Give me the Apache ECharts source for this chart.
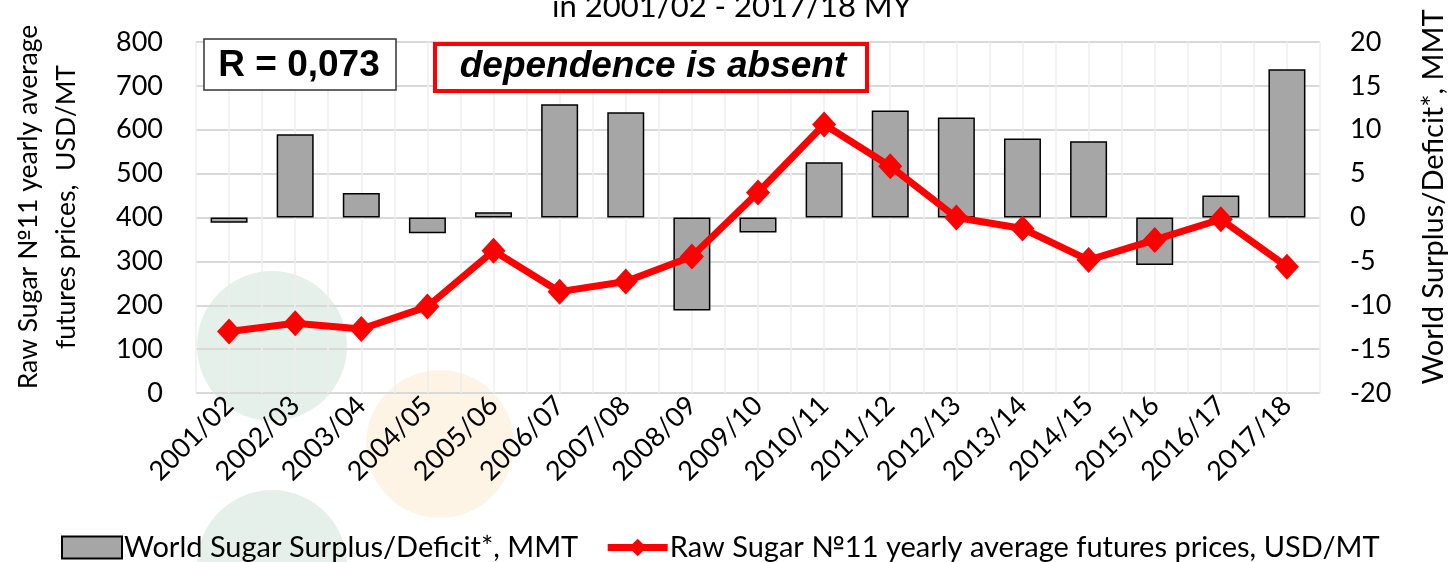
<!DOCTYPE html>
<html>
<head>
<meta charset="utf-8">
<script src="https://cdn.jsdelivr.net/npm/echarts@6/dist/echarts.min.js"></script>
<style>
  html, body { margin: 0; padding: 0; background: #fff; }
  #chart { width: 1449px; height: 562px; }
</style>
</head>
<body>
<div id="chart"></div>
<script>
// marketing years
var seasons = ['2001/02', '2002/03', '2003/04', '2004/05', '2005/06', '2006/07', '2007/08', '2008/09', '2009/10',
    '2010/11', '2011/12', '2012/13', '2013/14', '2014/15', '2015/16', '2016/17', '2017/18'];
// world surplus / deficit, MMT (right axis)
var surplus = [-0.6, 9.5, 2.8, -1.8, 0.6, 12.9, 12.0, -10.6, -1.7, 6.3, 12.2, 11.4, 9.0, 8.7, -5.4, 2.5, 16.9];
// raw sugar No11 yearly average price, USD/MT (left axis)
var price = [140, 159, 146, 197, 324, 231, 254, 311, 457, 612, 517, 400, 375, 303, 349, 396, 288];
var priceTicks = [0, 800, 100];
var surplusTicks = [-20, 20, 5];

// half-step categories, only used to draw the light vertical grid
var halfSteps = [];
for (var i = 0; i < seasons.length * 2; i++) halfSteps.push('');

var font = 'Lato';
var myChart = echarts.init(document.getElementById('chart'));
var option = {
    animation: false,
    textStyle: { fontFamily: font },
    legend: {
        top: 528,
        left: 56,
        itemWidth: 60,
        itemHeight: 22,
        itemGap: 26,
        textStyle: { fontSize: 29, color: '#000', fontFamily: font, padding: [0, 0, 0, -3] },
        data: [
            { name: 'World Sugar Surplus/Deficit*, MMT', icon: 'rect' },
            {
                name: 'Raw Sugar №11 yearly average futures prices, USD/MT',
                lineStyle: { width: 7, color: '#ff0000' },
                itemStyle: { color: '#ff0000' }
            }
        ]
    },
    grid: { left: 196, right: 129, top: 42, bottom: 169 },
    xAxis: [{
        type: 'category',
        data: seasons,
        axisLine: { show: false },
        axisTick: { show: false },
        splitLine: { show: false },
        axisLabel: { rotate: 45, fontSize: 27, color: '#000', margin: 8, interval: 0 }
    }, {
        type: 'category',
        data: halfSteps,
        position: 'bottom',
        axisLine: { show: false },
        axisTick: { show: false },
        axisLabel: { show: false },
        splitLine: { show: true, interval: 0, lineStyle: { color: '#eeeeee', width: 1.5 } }
    }],
    yAxis: [{
        type: 'value',
        min: priceTicks[0],
        max: priceTicks[1],
        interval: priceTicks[2],
        axisLine: { show: false },
        axisTick: { show: false },
        axisLabel: { fontSize: 27, color: '#000', margin: 33 },
        splitLine: { lineStyle: { color: '#d9d9d9', width: 2 } }
    }, {
        type: 'value',
        min: surplusTicks[0],
        max: surplusTicks[1],
        interval: surplusTicks[2],
        axisLine: { show: false },
        axisTick: { show: false },
        axisLabel: { fontSize: 27, color: '#000', margin: 30 },
        splitLine: { show: false }
    }],
    series: [{
        name: 'World Sugar Surplus/Deficit*, MMT',
        type: 'bar',
        yAxisIndex: 1,
        barWidth: 37,
        data: surplus,
        itemStyle: { color: '#a6a6a6', borderColor: '#000', borderWidth: 1.5 }
    }, {
        name: 'Raw Sugar №11 yearly average futures prices, USD/MT',
        type: 'line',
        yAxisIndex: 0,
        data: price,
        symbol: 'diamond',
        symbolSize: [24, 26],
        lineStyle: { color: '#ff0000', width: 7 },
        itemStyle: { color: '#ff0000' },
        z: 5
    }],
    graphic: [
        // faint watermark circles
        { type: 'circle', z: -1, shape: { cx: 272, cy: 346, r: 75 }, style: { fill: 'rgba(200,222,208,0.45)' } },
        { type: 'circle', z: -1, shape: { cx: 272, cy: 565, r: 75 }, style: { fill: 'rgba(200,222,208,0.45)' } },
        { type: 'circle', z: -1, shape: { cx: 440, cy: 444, r: 74 }, style: { fill: 'rgba(250,230,200,0.45)' } },
        // title (cut off at the top, as in the source)
        {
            type: 'text', z: 11,
            style: {
                text: 'in 2001/02 - 2017/18 MY', x: 732, y: 7, textAlign: 'center', textVerticalAlign: 'middle',
                font: '31px Lato', fill: '#000'
            }
        },
        // axis names
        {
            type: 'text', z: 11, x: 28, y: 207, rotation: Math.PI / 2,
            style: {
                text: 'Raw Sugar №11 yearly average', x: 0, y: 0, textAlign: 'center', textVerticalAlign: 'middle',
                font: '26.5px Lato', fill: '#000'
            }
        },
        {
            type: 'text', z: 11, x: 66, y: 207, rotation: Math.PI / 2,
            style: {
                text: 'futures prices,  USD/MT', x: 0, y: 0, textAlign: 'center', textVerticalAlign: 'middle',
                font: '26.5px Lato', fill: '#000'
            }
        },
        {
            type: 'text', z: 11, x: 1434, y: 197, rotation: Math.PI / 2,
            style: {
                text: 'World Surplus/Deficit*, MMT', x: 0, y: 0, textAlign: 'center', textVerticalAlign: 'middle',
                font: '29px Lato', fill: '#000'
            }
        },
        // annotation boxes
        {
            type: 'rect', z: 10,
            shape: { x: 204, y: 39, width: 192, height: 51 },
            style: { fill: '#fff', stroke: '#333333', lineWidth: 1.5 }
        },
        {
            type: 'text', z: 11,
            style: {
                text: 'R = 0,073', x: 299, y: 66, textAlign: 'center', textVerticalAlign: 'middle',
                font: 'bold 37px "Liberation Sans", Arial, sans-serif', fill: '#000'
            }
        },
        {
            type: 'rect', z: 10,
            shape: { x: 435, y: 44, width: 432, height: 47 },
            style: { fill: '#fff', stroke: '#ff0000', lineWidth: 4 }
        },
        {
            type: 'text', z: 11,
            style: {
                text: 'dependence is absent', x: 653, y: 67, textAlign: 'center', textVerticalAlign: 'middle',
                font: 'italic bold 37px "Liberation Sans", Arial, sans-serif', fill: '#000'
            }
        }
    ]
};
option && myChart.setOption(option);
</script>
</body>
</html>
